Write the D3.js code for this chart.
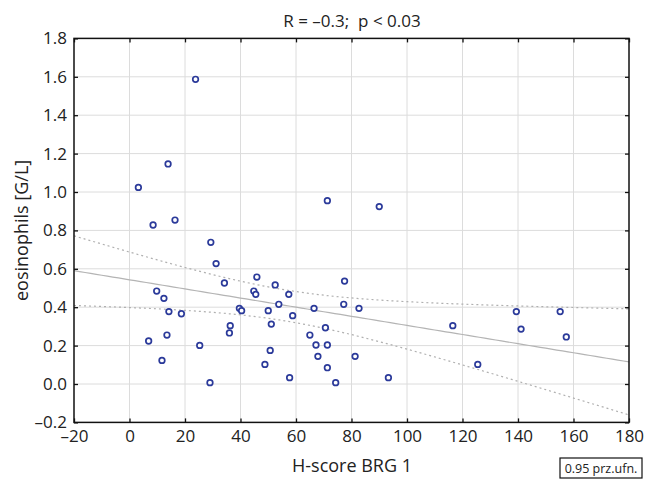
<!DOCTYPE html>
<html>
<head>
<meta charset="utf-8">
<script src="https://cdn.jsdelivr.net/npm/d3@7"></script>
<style>
  html, body { margin: 0; padding: 0; background: #fff; }
  svg { display: block; }
  text { font-family: "Open Sans", sans-serif; fill: #222; }
</style>
</head>
<body>
<svg id="chart" width="646" height="479"></svg>
<script>
// H-score BRG 1 vs eosinophil count
const hScore = [3.2, 13.9, 8.5, 16.4, 29.3, 31.2, 34.2, 45.9, 44.8, 45.5, 52.5, 53.8, 9.8, 12.4,
  14.2, 18.7, 39.6, 40.4, 50.0, 51.1, 36.3, 36.0, 13.5, 6.9, 25.3, 11.7, 50.7, 48.8, 29.0,
  71.3, 90.0, 77.5, 57.4, 66.5, 77.2, 82.7, 58.8, 70.6, 65.0, 67.2, 71.3, 67.9, 81.3, 71.3,
  57.7, 74.3, 93.3, 116.5, 125.5, 139.4, 141.1, 155.2, 157.4, 23.8];
const eosinophils = [1.024, 1.146, 0.828, 0.854, 0.738, 0.627, 0.526, 0.557, 0.484, 0.467, 0.516,
  0.415, 0.484, 0.446, 0.377, 0.366, 0.394, 0.382, 0.382, 0.312, 0.304, 0.266, 0.255, 0.224,
  0.201, 0.123, 0.175, 0.102, 0.007, 0.955, 0.924, 0.536, 0.467, 0.394, 0.415, 0.394, 0.356,
  0.293, 0.255, 0.203, 0.203, 0.144, 0.144, 0.085, 0.033, 0.007, 0.033, 0.304, 0.102, 0.377,
  0.286, 0.377, 0.245, 1.587];
const xTicks = [-20, 0, 20, 40, 60, 80, 100, 120, 140, 160, 180];
const yTicks = [-0.2, 0.0, 0.2, 0.4, 0.6, 0.8, 1.0, 1.2, 1.4, 1.6, 1.8];
const titleText = "R = \u20130.3;  p < 0.03";
const xLabel = "H-score BRG 1";
const yLabel = "eosinophils [G/L]";
const confText = "0.95 prz.ufn.";

const svg = d3.select("#chart");
const m = { left: 74, right: 629, top: 38.4, bottom: 422.4 };
const x = d3.scaleLinear().domain([-20, 180]).range([m.left, m.right]);
const y = d3.scaleLinear().domain([-0.2, 1.8]).range([m.bottom, m.top]);
const fmtY = v => (v < 0 ? "\u2013" : "") + Math.abs(v).toFixed(1);
const fmtX = v => (v < 0 ? "\u2013" : "") + Math.abs(v);

// grid
const grid = svg.append("g").attr("stroke", "#dcdcdc").attr("stroke-width", 1);
grid.selectAll(".gx").data(xTicks.slice(1, -1)).join("line")
  .attr("x1", d => x(d)).attr("x2", d => x(d)).attr("y1", m.top).attr("y2", m.bottom);
grid.selectAll(".gy").data(yTicks.slice(1, -1)).join("line")
  .attr("y1", d => y(d)).attr("y2", d => y(d)).attr("x1", m.left).attr("x2", m.right);

// linear fit with 95% confidence band for the mean
const n = hScore.length;
const mx = d3.mean(hScore), my = d3.mean(eosinophils);
let sxx = 0, sxy = 0;
for (let i = 0; i < n; i++) { sxx += (hScore[i] - mx) ** 2; sxy += (hScore[i] - mx) * (eosinophils[i] - my); }
const slope = sxy / sxx, icpt = my - slope * mx;
let sse = 0;
for (let i = 0; i < n; i++) sse += (eosinophils[i] - (icpt + slope * hScore[i])) ** 2;
const se = Math.sqrt(sse / (n - 2));
const tCrit = 2.0066;
const xs = d3.range(-20, 180.01, 2);
const fit = xs.map(v => [v, icpt + slope * v]);
const half = v => tCrit * se * Math.sqrt(1 / n + (v - mx) ** 2 / sxx);
const upper = xs.map(v => [v, icpt + slope * v + half(v)]);
const lower = xs.map(v => [v, icpt + slope * v - half(v)]);
const line = d3.line().x(d => x(d[0])).y(d => y(d[1]));
svg.append("clipPath").attr("id", "plotclip").append("rect")
  .attr("x", m.left).attr("y", m.top).attr("width", m.right - m.left).attr("height", m.bottom - m.top);
const fitG = svg.append("g").attr("clip-path", "url(#plotclip)").attr("fill", "none");
fitG.append("path").attr("d", line(fit)).attr("stroke", "#b4b4b4").attr("stroke-width", 1.2);
[upper, lower].forEach(b => fitG.append("path").attr("d", line(b))
  .attr("stroke", "#b0b0b0").attr("stroke-width", 1.2).attr("stroke-dasharray", "2,3"));

// points
svg.append("g").selectAll("circle").data(hScore).join("circle")
  .attr("cx", d => x(d)).attr("cy", (d, i) => y(eosinophils[i])).attr("r", 2.8)
  .attr("fill", "#fff").attr("stroke", "#2b3a9a").attr("stroke-width", 1.7);

// frame
svg.append("rect").attr("x", m.left).attr("y", m.top)
  .attr("width", m.right - m.left).attr("height", m.bottom - m.top)
  .attr("fill", "none").attr("stroke", "#111").attr("stroke-width", 1.5);

// axes with inward ticks
const ax = svg.append("g");
ax.append("g").attr("transform", `translate(0,${m.bottom})`)
  .call(d3.axisBottom(x).tickValues(xTicks).tickSize(-4).tickPadding(8).tickFormat(fmtX));
ax.append("g").attr("transform", `translate(0,${m.top})`)
  .call(d3.axisTop(x).tickValues(xTicks).tickSize(-4).tickFormat(""));
ax.append("g").attr("transform", `translate(${m.left},0)`)
  .call(d3.axisLeft(y).tickValues(yTicks).tickSize(-4).tickPadding(7).tickFormat(fmtY));
ax.append("g").attr("transform", `translate(${m.right},0)`)
  .call(d3.axisRight(y).tickValues(yTicks).tickSize(-4).tickFormat(""));
ax.selectAll(".domain").remove();
ax.selectAll(".tick line").attr("stroke", "#111").attr("stroke-width", 1.3);
ax.selectAll(".tick text").attr("font-size", 17).attr("fill", "#222")
  .style("font-family", '"Open Sans", sans-serif');

// labels
svg.append("text").attr("x", 352).attr("y", 27).attr("text-anchor", "middle")
  .attr("font-size", 17).style("white-space", "pre").text(titleText);
svg.append("text").attr("x", 352).attr("y", 472).attr("text-anchor", "middle")
  .attr("font-size", 18).text(xLabel);
svg.append("text").attr("transform", `translate(28,${(m.top + m.bottom) / 2}) rotate(-90)`)
  .attr("text-anchor", "middle").attr("font-size", 18).text(yLabel);
svg.append("rect").attr("x", 560).attr("y", 458).attr("width", 82).attr("height", 20)
  .attr("fill", "#fff").attr("stroke", "#111").attr("stroke-width", 1.2);
svg.append("text").attr("x", 601).attr("y", 473).attr("text-anchor", "middle")
  .attr("font-size", 12.5).text(confText);
</script>
</body>
</html>
